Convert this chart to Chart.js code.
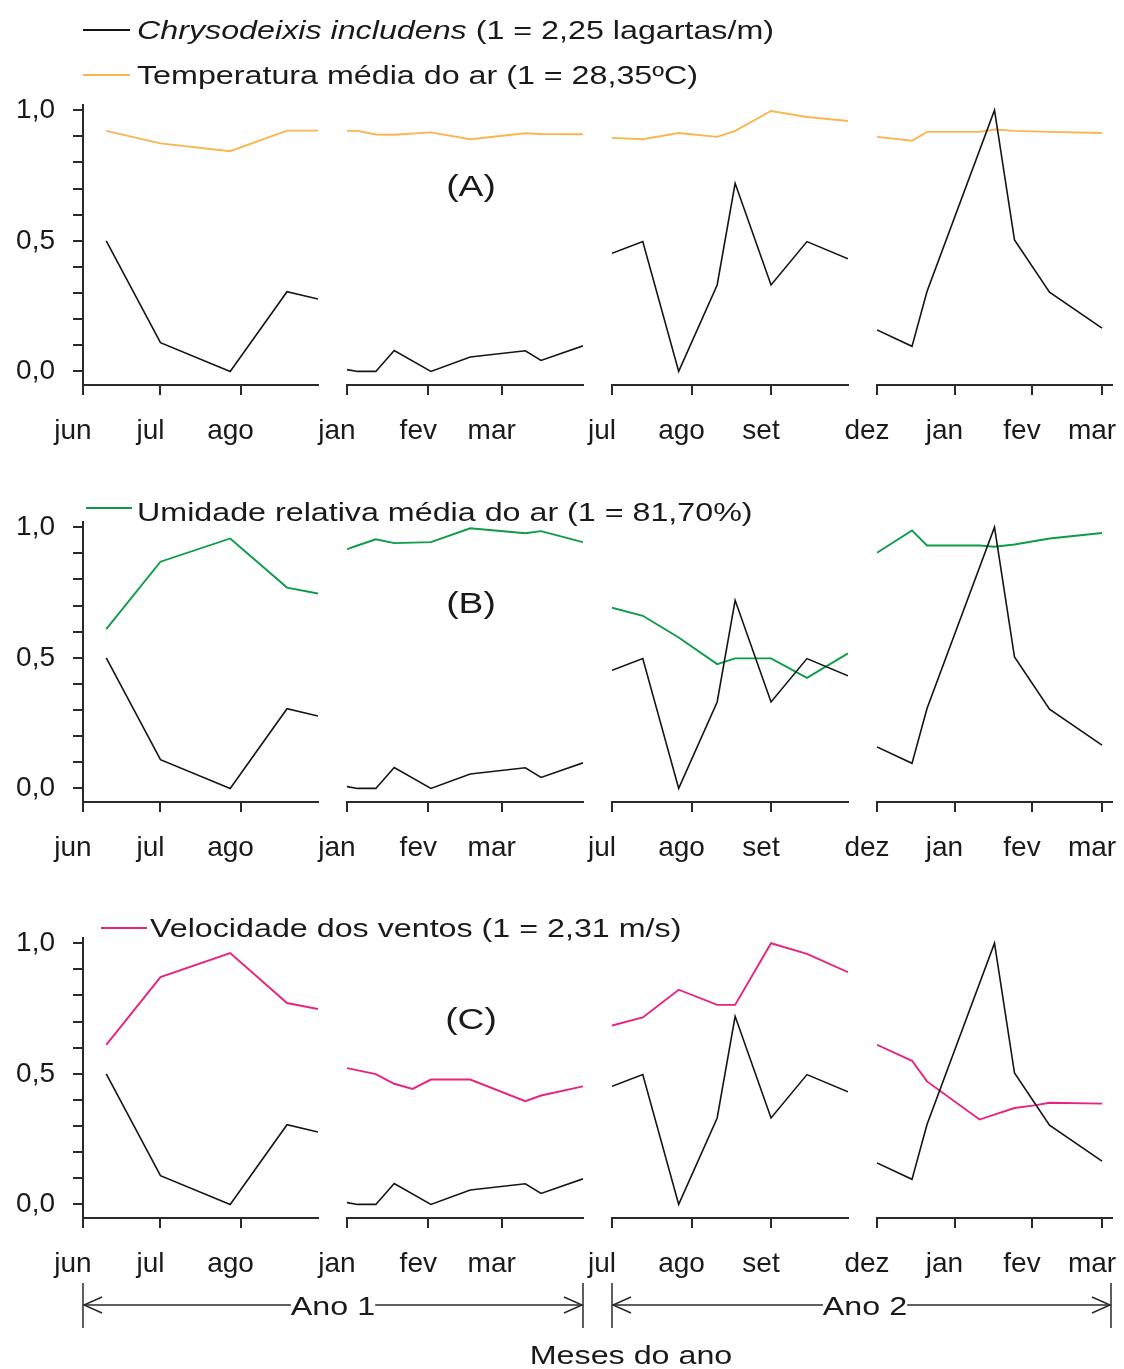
<!DOCTYPE html>
<html><head><meta charset="utf-8">
<script src="https://cdn.jsdelivr.net/npm/chart.js@4.4.1/dist/chart.umd.min.js"></script>
<style>
html,body{margin:0;padding:0;background:#fff;}
#wrap{position:relative;width:1124px;height:1369px;overflow:hidden;background:#fff;font-family:"Liberation Sans",Arial,sans-serif;color:#1a1a1a;}
canvas{position:absolute;}
.t{position:absolute;white-space:nowrap;}
.t span.in{display:inline-block;}
svg{position:absolute;left:0;top:0;}
</style></head><body><div id="wrap"></div>
<script>
// ---------------- DATA ----------------
// x = days since the first month shown in each panel
const monthLabels = [["jun","jul","ago"],["jan","fev","mar"],["jul","ago","set"],["dez","jan","fev","mar"]];
const monthStartDays = [[0,30,61],[0,31,59],[0,31,62],[0,31,62,90]];
const panelSpanDays = [91,90,92,94];

const larvaDays   = [[9,30,57,79,91],[0,4,11,18,32,47,68,74,90],[0,12,26,41,48,62,76,92],[0,14,20,47,55,69,90]];
const larvaValues = [[0.50,0.11,0.00,0.305,0.277],[0.007,0,0,0.08,0,0.055,0.079,0.042,0.098],[0.452,0.497,0,0.331,0.72,0.331,0.497,0.431],[0.159,0.096,0.306,1.0,0.503,0.303,0.166]];

const tempDays   = [[9,30,57,79,91],[0,4,11,18,32,47,68,74,90],[0,12,26,41,48,62,76,92],[0,14,20,41,47,55,69,90]];
const tempValues = [[0.921,0.873,0.843,0.922,0.922],[0.921,0.921,0.907,0.906,0.915,0.889,0.912,0.909,0.908],[0.894,0.889,0.913,0.898,0.921,0.997,0.974,0.959],[0.898,0.883,0.917,0.917,0.926,0.921,0.917,0.913]];

const humDays   = [[9,30,57,79,91],[0,4,11,18,32,47,68,74,90],[0,12,26,41,48,62,76,92],[0,14,20,41,47,55,69,90]];
const humValues = [[0.61,0.868,0.957,0.769,0.746],[0.916,0.93,0.954,0.939,0.943,0.996,0.977,0.985,0.943],[0.692,0.661,0.578,0.476,0.498,0.498,0.423,0.517],[0.902,0.988,0.930,0.930,0.925,0.934,0.957,0.978]];

const windDays   = [[9,30,57,79,91],[0,11,18,25,32,47,68,74,90],[0,12,26,41,48,62,76,92],[0,14,20,41,55,63,69,90]];
const windValues = [[0.611,0.870,0.962,0.771,0.748],[0.522,0.499,0.462,0.442,0.478,0.478,0.395,0.417,0.452],[0.685,0.716,0.822,0.764,0.764,1.0,0.959,0.889],[0.611,0.550,0.471,0.325,0.369,0.379,0.389,0.386]];

const yTickValues = [0,0.1,0.2,0.3,0.4,0.5,0.6,0.7,0.8,0.9,1.0];
const yTickLabels = ["0,0","","","","","0,5","","","","","1,0"];

// ---------------- STYLE / LAYOUT ----------------
const FONT = '"Liberation Sans", Arial, sans-serif';
const AX = '#2a2a2a', TXT = '#1a1a1a';
const C_LARVA = '#141414', C_TEMP = '#F9B650', C_HUM = '#0C9C48', C_WIND = '#E8237F';
const panelLeft = [83, 347, 612, 877];
const panelWidth = [235, 236, 236, 235];
const rowAreaTop = [105, 522, 938];
const AREA_H = 280, PT = 40, XH = 70, M = 50;
const Y_MIN = -0.052, Y_MAX = 1.02;

const wrap = document.getElementById('wrap');

function pts(days, vals){ return days.map((d,i)=>({x:d, y:vals[i]})); }

function makePanel(row, p, secondDays, secondVals, secondColor){
  const first = p === 0;
  const canvas = document.createElement('canvas');
  const left = first ? 0 : panelLeft[p] - M;
  const width = first ? panelLeft[0] + panelWidth[0] + M : panelWidth[p] + 2*M;
  const top = rowAreaTop[row] - PT;
  const height = PT + AREA_H + XH;
  canvas.width = width; canvas.height = height;
  canvas.style.left = left + 'px'; canvas.style.top = top + 'px';
  canvas.style.width = width + 'px'; canvas.style.height = height + 'px';
  wrap.appendChild(canvas);
  new Chart(canvas, {
    type: 'line',
    data: { datasets: [
      { data: pts(larvaDays[p], larvaValues[p]), borderColor: C_LARVA, borderWidth: 1.6, pointRadius: 0, tension: 0, fill: false },
      { data: pts(secondDays[p], secondVals[p]), borderColor: secondColor, borderWidth: 1.9, pointRadius: 0, tension: 0, fill: false }
    ]},
    options: {
      responsive: false, animation: false, devicePixelRatio: 1,
      layout: { padding: { left: first ? 0 : M, right: M, top: PT, bottom: 0 } },
      plugins: { legend: { display: false }, tooltip: { enabled: false } },
      scales: {
        x: {
          type: 'linear', min: 0, max: panelSpanDays[p],
          border: { display: true, color: AX, width: 2 },
          grid: { display: true, drawOnChartArea: false, drawTicks: true, tickLength: 10, color: AX, lineWidth: 2 },
          ticks: { autoSkip: false, maxRotation: 0, minRotation: 0, padding: 19, labelOffset: -10, color: TXT,
                   font: { family: FONT, size: 28 }, callback: (v, i) => monthLabels[p][i] },
          afterBuildTicks: a => { a.ticks = monthStartDays[p].map(v => ({ value: v })); },
          afterFit: a => { a.height = XH; }
        },
        y: {
          display: first, min: Y_MIN, max: Y_MAX,
          border: { display: true, color: AX, width: 2 },
          grid: { display: true, drawOnChartArea: false, drawTicks: true, tickLength: 10, color: AX, lineWidth: 2 },
          ticks: { autoSkip: false, padding: 18, color: TXT, font: { family: FONT, size: 28 },
                   callback: (v, i) => yTickLabels[i] },
          afterBuildTicks: a => { a.ticks = yTickValues.map(v => ({ value: v })); },
          afterFit: a => { a.width = first ? panelLeft[0] : 0; }
        }
      }
    }
  });
}

for (let p = 0; p < 4; p++) {
  makePanel(0, p, tempDays, tempValues, C_TEMP);
  makePanel(1, p, humDays, humValues, C_HUM);
  makePanel(2, p, windDays, windValues, C_WIND);
}

// ---------------- TEXT ----------------
function addText(html, x, cy, opts) {
  opts = opts || {};
  const size = opts.size || 26, sx = opts.sx || 1.24, align = opts.align || 'left';
  const d = document.createElement('div');
  d.className = 't';
  d.style.fontSize = size + 'px'; d.style.lineHeight = size + 'px';
  d.style.top = (cy - size * 0.489) + 'px';
  d.style.left = x + 'px';
  const s = document.createElement('span'); s.className = 'in'; s.innerHTML = html;
  if (opts.bg) s.style.background = '#fff';
  if (align === 'center') { d.style.transform = 'translateX(-50%)'; s.style.transformOrigin = '50% 50%'; }
  else { s.style.transformOrigin = '0 50%'; }
  s.style.transform = 'scaleX(' + sx + ')';
  d.appendChild(s); wrap.appendChild(d);
}

// SVG overlay for legend keys and year arrows
const NS = 'http://www.w3.org/2000/svg';
const svg = document.createElementNS(NS, 'svg');
svg.setAttribute('width', 1124); svg.setAttribute('height', 1369);
wrap.appendChild(svg);
function line(x1, y1, x2, y2, color, w) {
  const l = document.createElementNS(NS, 'line');
  l.setAttribute('x1', x1); l.setAttribute('y1', y1); l.setAttribute('x2', x2); l.setAttribute('y2', y2);
  l.setAttribute('stroke', color); l.setAttribute('stroke-width', w);
  svg.appendChild(l);
}
function poly(points, color, w) {
  const pl = document.createElementNS(NS, 'polyline');
  pl.setAttribute('points', points); pl.setAttribute('fill', 'none');
  pl.setAttribute('stroke', color); pl.setAttribute('stroke-width', w);
  svg.appendChild(pl);
}

// legend keys
line(83, 30, 130, 30, C_LARVA, 1.8);
line(83, 75, 130, 75, C_TEMP, 2);
line(86, 508, 132, 508, C_HUM, 2);
line(101, 928, 147, 928, C_WIND, 2);

// year arrows
function yearArrow(x1, x2) {
  line(x1, 1283, x1, 1328, AX, 1.5);
  line(x2, 1283, x2, 1328, AX, 1.5);
  line(x1 + 1, 1305, x2 - 1, 1305, AX, 1.5);
  poly((x1 + 19) + ',1297 ' + (x1 + 1) + ',1305 ' + (x1 + 19) + ',1313', AX, 1.5);
  poly((x2 - 19) + ',1297 ' + (x2 - 1) + ',1305 ' + (x2 - 19) + ',1313', AX, 1.5);
}
yearArrow(83, 583);
yearArrow(612, 1111);

addText('<i>Chrysodeixis includens</i> (1 = 2,25 lagartas/m)', 137, 30);
addText('Temperatura média do ar (1 = 28,35ºC)', 137, 75);
addText('Umidade relativa média do ar (1 = 81,70%)', 137, 512);
addText('Velocidade dos ventos (1 = 2,31 m/s)', 150, 928);
addText('(A)', 471, 186, { size: 30, align: 'center' });
addText('(B)', 471, 603, { size: 30, align: 'center' });
addText('(C)', 471, 1019, { size: 30, align: 'center' });
addText('Ano 1', 333, 1306, { align: 'center', bg: true });
addText('Ano 2', 865, 1306, { align: 'center', bg: true });
addText('Meses do ano', 631, 1355, { align: 'center' });
</script>
</body></html>
